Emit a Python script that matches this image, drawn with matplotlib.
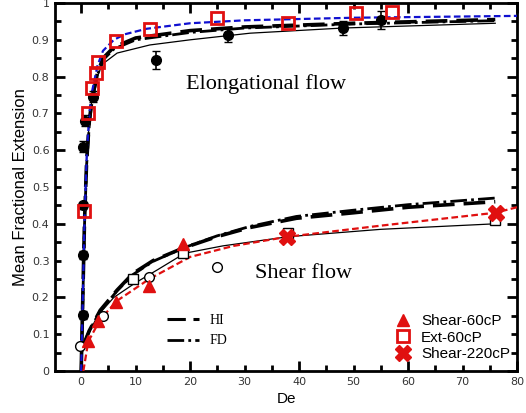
import matplotlib.pyplot as plt
import numpy as np

# ---- data ----
# elongational flow, experiments (black filled circles with error bars)
ext_de = [0.3, 0.3, 0.3, 0.4, 0.7, 2.2, 13.7, 27.0, 48.0, 55.0]
ext_fe = [0.152, 0.315, 0.45, 0.61, 0.68, 0.745, 0.845, 0.913, 0.932, 0.954]
ext_err = [0.01, 0.01, 0.01, 0.015, 0.015, 0.015, 0.025, 0.02, 0.02, 0.025]

# Ext-60cP (red open squares)
ext60_de = [0.6, 1.3, 2.0, 2.7, 3.1, 6.4, 12.6, 25.0, 38.0, 50.5, 57.0]
ext60_fe = [0.435, 0.70, 0.77, 0.81, 0.84, 0.897, 0.93, 0.96, 0.946, 0.973, 0.976]

# shear flow, experiments (black open circles / squares)
sh_circ_de = [-0.3, 4.0, 12.5, 25.0]
sh_circ_fe = [0.068, 0.15, 0.255, 0.283]
sh_sq_de = [9.5, 18.7, 38.0, 76.0]
sh_sq_fe = [0.25, 0.32, 0.375, 0.41]

# Shear-60cP (red triangles) and Shear-220cP (red crosses)
sh60_de = [1.3, 3.1, 6.4, 12.5, 18.7]
sh60_fe = [0.082, 0.135, 0.187, 0.23, 0.345]
sh220_de = [37.7, 76.2]
sh220_fe = [0.364, 0.43]

# model curves, elongation
blue_de = [0.0, 0.3, 0.6, 1.0, 1.5, 2.0, 3.0, 4.0, 6.0, 8.0, 12.0, 20.0, 30.0, 50.0, 80.0]
blue_fe = [0.0, 0.20, 0.40, 0.58, 0.70, 0.76, 0.83, 0.87, 0.90, 0.915, 0.93, 0.945, 0.953, 0.96, 0.965]
hi_e_de = [0.0, 0.3, 0.6, 1.0, 1.5, 2.0, 3.0, 4.0, 6.0, 10.0, 20.0, 30.0, 50.0, 76.0]
hi_e_fe = [0.0, 0.20, 0.40, 0.57, 0.68, 0.74, 0.81, 0.85, 0.88, 0.905, 0.925, 0.935, 0.945, 0.955]
fd_e_de = [0.0, 0.3, 0.6, 1.0, 1.5, 2.0, 3.0, 4.0, 6.0, 10.0, 20.0, 30.0, 50.0, 76.0]
fd_e_fe = [0.0, 0.19, 0.39, 0.56, 0.67, 0.735, 0.805, 0.845, 0.875, 0.90, 0.92, 0.932, 0.943, 0.952]
thin_e_de = [0.0, 0.3, 0.6, 1.0, 1.5, 2.0, 2.9, 4.0, 6.6, 12.6, 20.0, 31.0, 48.0, 76.0]
thin_e_fe = [0.0, 0.20, 0.40, 0.57, 0.68, 0.74, 0.80, 0.835, 0.864, 0.886, 0.90, 0.918, 0.932, 0.945]

# model curves, shear
hi_s_de = [0.4, 1.5, 3.5, 6.6, 9.5, 13.2, 18.7, 24.9, 31.0, 39.5, 50.0, 60.0, 76.0]
hi_s_fe = [0.07, 0.11, 0.165, 0.22, 0.265, 0.30, 0.334, 0.365, 0.39, 0.415, 0.43, 0.445, 0.46]
fd_s_de = [0.4, 1.5, 3.5, 6.6, 9.5, 13.2, 18.7, 24.9, 31.0, 39.5, 50.0, 60.0, 76.0]
fd_s_fe = [0.07, 0.11, 0.163, 0.218, 0.262, 0.298, 0.334, 0.367, 0.393, 0.42, 0.437, 0.452, 0.47]
thin_s_de = [0.0, 1.0, 3.0, 6.0, 10.0, 14.0, 19.0, 26.0, 38.0, 55.0, 76.0]
thin_s_fe = [0.04, 0.09, 0.15, 0.20, 0.24, 0.275, 0.32, 0.34, 0.365, 0.385, 0.40]
red_s_de = [0.4, 1.3, 3.5, 6.5, 12.5, 20.0, 28.0, 38.0, 55.0, 76.0, 80.0]
red_s_fe = [0.0, 0.08, 0.14, 0.19, 0.25, 0.31, 0.34, 0.365, 0.395, 0.43, 0.445]

fig = plt.figure(figsize=(5.26, 4.13), dpi=100)
ax = fig.add_axes([0.1046, 0.1017, 0.8784, 0.891])

# curves
ax.plot(blue_de, blue_fe, color='#1010d0', ls=(0, (3, 1.5)), lw=1.6, zorder=4)
ax.plot(hi_e_de, hi_e_fe, color='black', ls=(0, (6, 2.5)), lw=2.6, zorder=3)
ax.plot(fd_e_de, fd_e_fe, color='black', ls=(0, (6, 1.5, 1, 1.5)), lw=2.0, zorder=3)
ax.plot(thin_e_de, thin_e_fe, color='black', lw=0.9, zorder=3)
ax.plot(hi_s_de, hi_s_fe, color='black', ls=(0, (6, 2.5)), lw=2.6, zorder=3)
ax.plot(fd_s_de, fd_s_fe, color='black', ls=(0, (6, 1.5, 1, 1.5)), lw=2.0, zorder=3)
ax.plot(thin_s_de, thin_s_fe, color='black', lw=0.9, zorder=3)
ax.plot(red_s_de, red_s_fe, color='#e01010', ls=(0, (3, 1.5)), lw=1.6, zorder=4)

# experimental points
ax.errorbar(ext_de, ext_fe, yerr=ext_err, fmt='o', color='black', ms=7,
            capsize=3, elinewidth=1.2, zorder=5)
ax.plot(sh_circ_de, sh_circ_fe, 'o', mfc='white', mec='black', ms=7, mew=1, zorder=5)
ax.plot(sh_sq_de, sh_sq_fe, 's', mfc='white', mec='black', ms=7, mew=1, zorder=5)
ax.plot(ext60_de, ext60_fe, 's', mfc='none', mec='#e01010', ms=8, mew=2, zorder=6)
ax.plot(sh60_de, sh60_fe, '^', color='#e01010', ms=9, zorder=6)
ax.plot(sh220_de, sh220_fe, 'X', color='#e01010', ms=11, zorder=6)

# legends
h1, = ax.plot([], [], color='black', ls=(0, (6, 2.5)), lw=2.2)
h2, = ax.plot([], [], color='black', ls=(0, (6, 1.5, 1, 1.5)), lw=2.0)
leg1 = ax.legend([h1, h2], ['HI', 'FD'], loc='lower left', bbox_to_anchor=(0.215, 0.03),
                 frameon=False, handlelength=2.3, handletextpad=0.8, labelspacing=0.55,
                 prop={'family': 'Liberation Serif', 'size': 10})
ax.add_artist(leg1)
m1, = ax.plot([], [], '^', color='#e01010', ms=9, ls='none')
m2, = ax.plot([], [], 's', mfc='none', mec='#e01010', mew=2, ms=8, ls='none')
m3, = ax.plot([], [], 'X', color='#e01010', ms=11, ls='none')
ax.legend([m1, m2, m3], ['Shear-60cP', 'Ext-60cP', 'Shear-220cP'], loc='lower right',
          bbox_to_anchor=(1.015, -0.01), frameon=False, handletextpad=0.2,
          labelspacing=0.15, prop={'family': 'Liberation Sans', 'size': 11})

ax.text(34.0, 0.78, 'Elongational flow', family='Liberation Serif', fontsize=16,
        ha='center', va='center')
ax.text(40.8, 0.266, 'Shear flow', family='Liberation Serif', fontsize=16,
        ha='center', va='center')

ax.set_xlim(-4.8, 80)
ax.set_ylim(0, 1)
ax.set_xticks(np.arange(0, 81, 10))
ax.set_xticks(np.arange(0, 81, 5), minor=True)
ax.set_yticks(np.arange(0, 1.01, 0.1))
ax.set_yticks(np.arange(0, 1.01, 0.05), minor=True)
ax.set_xticklabels([str(v) for v in range(0, 81, 10)])
ax.set_yticklabels(['0'] + ['%.1f' % v for v in np.arange(0.1, 0.95, 0.1)] + ['1'])
ax.tick_params(which='both', direction='in', top=True, right=True, width=2,
               labelsize=8, labelcolor='#333333', pad=4)
ax.tick_params(which='major', length=7)
ax.tick_params(which='minor', length=4)
for t, v in zip(ax.xaxis.get_major_ticks(), range(0, 81, 10)):
    if v % 20:
        t.tick1line.set_markersize(4)
        t.tick2line.set_markersize(4)
for i, t in enumerate(ax.yaxis.get_major_ticks()):
    if i % 2:
        t.tick1line.set_markersize(4)
        t.tick2line.set_markersize(4)
for s in ax.spines.values():
    s.set_linewidth(2)

ax.set_xlabel('De', fontsize=11, family='Liberation Sans', labelpad=4)
ax.set_ylabel('Mean Fractional Extension', fontsize=12, family='Liberation Sans', labelpad=3)

fig.savefig('out.png', dpi=100)
